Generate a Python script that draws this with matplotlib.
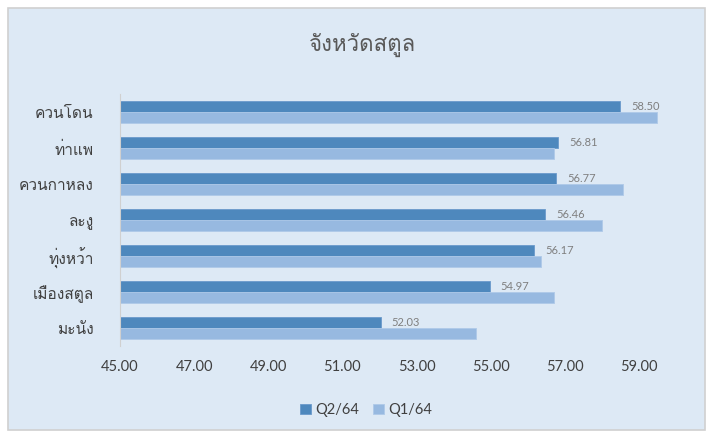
import matplotlib
matplotlib.use("Agg")
import matplotlib.pyplot as plt
from matplotlib import font_manager
from matplotlib.ft2font import FT2Font
import numpy as np

# data (top to bottom as in the chart)
districts = ['ควนโดน', 'ท่าแพ', 'ควนกาหลง', 'ละงู', 'ทุ่งหว้า', 'เมืองสตูล', 'มะนัง']
q2 = [58.50, 56.81, 56.77, 56.46, 56.17, 54.97, 52.03]
q1 = [59.48, 56.71, 58.57, 58.01, 56.35, 56.71, 54.60]
series_names = ['Q2/64', 'Q1/64']
xticks = [45, 47, 49, 51, 53, 55, 57, 59]


# find a font that has Thai glyphs
def has_thai(path):
    try:
        return 0x0E08 in FT2Font(path).get_charmap()
    except Exception:
        return False

thai_fonts = []
for f in font_manager.fontManager.ttflist:
    if f.name not in thai_fonts and has_thai(f.fname):
        thai_fonts.append(f.name)
plt.rcParams['font.family'] = ['Lato'] + thai_fonts[:1] + ['DejaVu Sans']

bg = '#DDE9F5'
dark = '#4E88BD'
light = '#97B9E0'
txt = '#404040'

fig = plt.figure(figsize=(7.11, 4.36), dpi=100)
fig.patch.set_facecolor('white')
# chart area with a thin gray border
frame = plt.Rectangle((8 / 711, 6 / 436), 697 / 711, 422 / 436, transform=fig.transFigure,
                      facecolor=bg, edgecolor='#D0D0D0', linewidth=1.2, zorder=-10)
fig.patches.append(frame)

ax = fig.add_axes([120 / 711, 1 - 346 / 436, 556 / 711, 252 / 436])
ax.set_facecolor('none')

n = len(districts)
y = np.arange(n)[::-1]
h = 0.31
ax.barh(y + h / 2, q2, height=h, color=dark, edgecolor='#6A9ACB', linewidth=0.6, label=series_names[0])
ax.barh(y - h / 2, q1, height=h, color=light, edgecolor='#AFC9E8', linewidth=0.6, label=series_names[1])

for yi, v in zip(y, q2):
    ax.text(v + 0.3, yi + h / 2, '%.2f' % v, va='center', ha='left', fontsize=8, color='#7F7F7F')

ax.set_xlim(45, 60)
ax.set_ylim(-0.5, n - 0.5)
ax.set_xticks(xticks)
ax.set_xticklabels(['%.2f' % t for t in xticks], fontsize=10.5, color=txt)
ax.set_yticks(y)
ax.set_yticklabels(districts, fontsize=11, color=txt)
ax.tick_params(length=0, pad=10)
ax.tick_params(axis='y', pad=19)
for s in ['top', 'right', 'bottom']:
    ax.spines[s].set_visible(False)
ax.spines['left'].set_color('#D0D0D0')

# size the thai labels so the longest one is about 75 px wide, as in the picture
fig.canvas.draw()
r = fig.canvas.get_renderer()
lab = ax.get_yticklabels()[districts.index('ควนกาหลง')]
w = lab.get_window_extent(r).width
for t in ax.get_yticklabels():
    t.set_fontsize(11 * 75.0 / w)

fig.text(0.51, 1 - 45 / 436, 'จังหวัดสตูล', ha='center', va='center', fontsize=16, color='#595959')

fig.legend(loc='center', bbox_to_anchor=(0.515, 1 - 410 / 436), ncol=2, frameon=False,
           handlelength=0.7, handleheight=0.7, handletextpad=0.3, columnspacing=1.0,
           fontsize=10.5, labelcolor=txt)

fig.savefig('out.png', dpi=100, facecolor=fig.get_facecolor())
